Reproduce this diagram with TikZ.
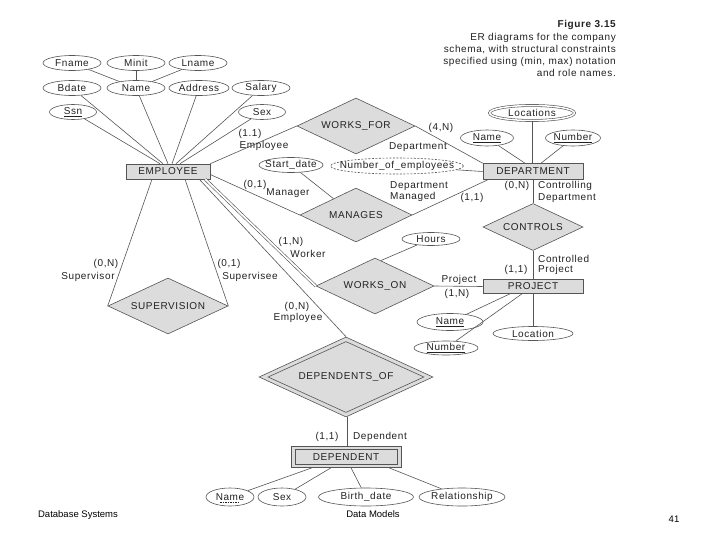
\documentclass[tikz,border=0pt]{standalone}
\usepackage{fontspec}
\setmainfont{Liberation Sans}
\newfontfamily\erf[LetterSpace=6]{Liberation Sans}
\usetikzlibrary{shapes.geometric,calc}
\definecolor{linec}{HTML}{555555}
\definecolor{boxc}{HTML}{DCDCDC}
\definecolor{txt}{HTML}{222222}
\newcommand\erfs{\erf\fontsize{10}{12}\selectfont}
\newcommand\zb[1]{\makebox[0pt]{#1}}
\tikzset{
  attr/.style={ellipse, draw=linec, line width=0.6pt, fill=white, inner sep=0pt, font=\erfs, text=txt},
  entbox/.style={rectangle, draw=linec, line width=0.6pt, fill=boxc, inner sep=0pt, font=\erfs, text=txt},
  relbox/.style={diamond, draw=linec, line width=0.6pt, fill=boxc, inner sep=0pt, aspect=2, font=\erfs, text=txt},
  lab/.style={inner sep=0pt, font=\erfs, text=txt},
  conn/.style={draw=linec, line width=0.6pt},
  dconn/.style={draw=linec, line width=0.6pt, double=white, double distance=1.8pt},
  foot/.style={inner sep=0pt, font=\fontsize{9.5}{11}\selectfont, text=black}
}
\begin{document}
\begin{tikzpicture}[x=1pt,y=-1pt]
\useasboundingbox[fill=white] (0,0) rectangle (717,538);

% caption
\node[lab, anchor=east, font={\erf\bfseries\fontsize{10}{12}\selectfont}] (cap0) at (616,25) {Figure 3.15};
\node[lab, anchor=east] (cap1) at (616,38) {ER diagrams for the company};
\node[lab, anchor=east] (cap2) at (616,50) {schema, with structural constraints};
\node[lab, anchor=east] (cap3) at (616,62) {specified using (min, max) notation};
\node[lab, anchor=east] (cap4) at (616,73) {and role names.};

% EMPLOYEE and attributes
\node[entbox, minimum width=84pt, minimum height=15pt] (emp) at (168,171.5) {EMPLOYEE};
\node[attr, minimum width=58pt, minimum height=15pt] (fname) at (72,63) {\zb{Fname}};
\node[attr, minimum width=58pt, minimum height=15pt] (minit) at (136,63) {\zb{Minit}};
\node[attr, minimum width=58pt, minimum height=15pt] (lname) at (198,63) {\zb{Lname}};
\node[attr, minimum width=58pt, minimum height=15pt] (bdate) at (72,88) {\zb{Bdate}};
\node[attr, minimum width=58pt, minimum height=15pt] (ename) at (136,88) {\zb{Name}};
\node[attr, minimum width=60pt, minimum height=15pt] (addr) at (199,88) {\zb{Address}};
\node[attr, minimum width=58pt, minimum height=15pt] (salary) at (261,88) {\zb{Salary}};
\node[attr, minimum width=47pt, minimum height=15pt] (ssn) at (73,112) {\zb{\underline{Ssn}}};
\node[attr, minimum width=47pt, minimum height=15pt] (esex) at (262,112) {\zb{Sex}};

\draw[conn] (fname) -- (ename);
\draw[conn] (minit) -- (ename);
\draw[conn] (lname) -- (ename);
\draw[conn] (ssn) -- ([xshift=-8pt]emp.north);
\draw[conn] (bdate) -- ([xshift=-5pt]emp.north);
\draw[conn] (ename) -- ([xshift=0pt]emp.north);
\draw[conn] (addr) -- ([xshift=4pt]emp.north);
\draw[conn] (salary) -- ([xshift=8pt]emp.north);
\draw[conn] (esex) -- ([xshift=12pt]emp.north);

% DEPARTMENT
\node[entbox, minimum width=100pt, minimum height=16pt] (dept) at (533,171.5) {DEPARTMENT};
\node[attr, double=white, double distance=1.5pt, minimum width=85pt, minimum height=15pt] (locs) at (532,113) {\zb{Locations}};
\node[attr, minimum width=53pt, minimum height=16pt] (dname) at (487,138) {\zb{\underline{Name}}};
\node[attr, minimum width=55pt, minimum height=16pt] (dnum) at (573,138) {\zb{\underline{Number}}};
\node[attr, minimum width=64pt, minimum height=15pt] (sdate) at (291,165) {\zb{Start\_date}};
\node[attr, dashed, dash pattern=on 2pt off 1.5pt, minimum width=133pt, minimum height=16pt] (nemp) at (397,166) {\zb{Number\_of\_employees}};

\draw[conn] (locs) -- (locs |- dept.north);
\draw[conn] (dname) -- ([xshift=-8pt]dept.north);
\draw[conn] (dnum) -- ([xshift=8pt]dept.north);
\draw[conn] (nemp) -- (dept.west);

% WORKS_FOR
\node[relbox, minimum width=118pt, minimum height=56pt] (wf) at (356,126) {WORKS\_FOR};
\draw[conn] (emp.north east) -- (wf.west);
\draw[conn] (wf.east) -- (dept.north west);
\node[lab] (l11a) at (250,134) {(1.1)};
\node[lab] (lempa) at (264,146) {Employee};
\node[lab] (l4n) at (441,128) {(4,N)};
\node[lab] (ldepa) at (418,147) {Department};

% MANAGES
\node[relbox, minimum width=112pt, minimum height=54pt] (man) at (356,215) {MANAGES};
\draw[conn] ([yshift=-3pt]emp.east) -- (man.west);
\draw[conn] (man.east) -- ([xshift=5pt]dept.south west);
\draw[conn] (sdate) -- ($(man.west)!0.6!(man.north)$);
\node[lab] (l01a) at (255,185) {(0,1)};
\node[lab] (lmgr) at (288,193) {Manager};
\node[lab, anchor=west] (ldepb) at (390,186) {Department};
\node[lab, anchor=west] (lmgd) at (390,197) {Managed};
\node[lab] (l11b) at (472,198) {(1,1)};

% CONTROLS
\node[relbox, minimum width=100pt, minimum height=47pt] (ctrl) at (533,227) {CONTROLS};
\node[entbox, minimum width=100pt, minimum height=14pt] (proj) at (533,286.5) {PROJECT};
\draw[conn] (dept.south) -- (ctrl.north);
\draw[conn] (ctrl.south) -- (proj.north);
\node[lab] (l0na) at (517,186) {(0,N)};
\node[lab, anchor=west] (lctl) at (538,186) {Controlling};
\node[lab, anchor=west] (ldepc) at (538,198) {Department};
\node[lab, anchor=west] (lctd) at (538,259) {Controlled};
\node[lab, anchor=west] (lproa) at (538,270) {Project};
\node[lab] (l11c) at (516,270) {(1,1)};

% WORKS_ON
\node[relbox, minimum width=118pt, minimum height=56pt] (wo) at (375,286) {WORKS\_ON};
\node[attr, minimum width=58pt, minimum height=13pt] (hours) at (431,239) {\zb{Hours}};
\draw[conn] (hours) -- ($(wo.north)!0.1!(wo.east)$);
\draw[conn] (wo.east) -- (proj.west);
\draw[dconn] ([xshift=-5pt]emp.south east) -- (wo.west);
\node[lab] (lproj) at (459,280) {Project};
\node[lab] (l1na) at (457,294) {(1,N)};
\node[lab] (l1nb) at (291,242) {(1,N)};
\node[lab] (lwork) at (308,254) {Worker};

% PROJECT attributes
\node[attr, minimum width=66pt, minimum height=17pt] (pname) at (450,322) {\zb{\underline{Name}}};
\node[attr, minimum width=80pt, minimum height=14pt] (ploc) at (533,333.5) {\zb{Location}};
\node[attr, minimum width=64pt, minimum height=14pt] (pnum) at (446,348) {\zb{\underline{Number}}};
\draw[conn] ([xshift=-23pt]proj.south) -- (pname);
\draw[conn] ([xshift=-11pt]proj.south) -- (pnum);
\draw[conn] (proj.south) -- (ploc.north);

% SUPERVISION
\node[relbox, minimum width=120pt, minimum height=56pt] (sup) at (168,306) {SUPERVISION};
\draw[conn] ([xshift=-16pt]emp.south) -- (sup.west);
\draw[conn] ([xshift=17pt]emp.south) -- (sup.east);
\node[lab] (l0nb) at (106,264) {(0,N)};
\node[lab] (lsupr) at (88,277) {Supervisor};
\node[lab] (l01b) at (229,264) {(0,1)};
\node[lab] (lsupe) at (250,277) {Supervisee};

% DEPENDENTS_OF
\node[relbox, minimum width=174pt, minimum height=80pt] (dof) at (346,377) {};
\node[relbox, minimum width=156pt, minimum height=71pt] (dofi) at (346,377) {DEPENDENTS\_OF};
\draw[conn] ([xshift=-11pt]emp.south east) -- (dof.north);
\node[lab] (l0nc) at (297,307) {(0,N)};
\node[lab] (lempb) at (298,318) {Employee};

% DEPENDENT
\node[entbox, minimum width=110pt, minimum height=21pt] (dep) at (346,457) {};
\node[entbox, minimum width=102pt, minimum height=15pt] (depi) at (346,457) {DEPENDENT};
\draw[dconn] (dof.south) -- (dep.north);
\node[lab] (l11d) at (327,437) {(1,1)};
\node[lab] (ldept) at (380,437) {Dependent};

\node[attr, minimum width=48pt, minimum height=18pt] (qname) at (230,497) {\zb{Name}};
\node[attr, minimum width=48pt, minimum height=18pt] (qsex) at (282,497) {\zb{Sex}};
\node[attr, minimum width=95pt, minimum height=18pt] (qbd) at (366,497) {\zb{Birth\_date}};
\node[attr, minimum width=86pt, minimum height=18pt] (qrel) at (462,497) {\zb{Relationship}};
\draw[draw=txt, line width=0.5pt, dash pattern=on 1.5pt off 1pt] ([xshift=-10pt,yshift=-5pt]qname.center) -- ([xshift=10pt,yshift=-5pt]qname.center);
\draw[conn] ([xshift=-34pt]dep.south) -- (qname);
\draw[conn] ([xshift=-15pt]dep.south) -- (qsex);
\draw[conn] ([xshift=5pt]dep.south) -- (qbd);
\draw[conn] ([xshift=43pt]dep.south) -- (qrel);

% footer
\node[foot] (f1) at (78,515) {Database Systems};
\node[foot] (f2) at (373,514) {Data Models};
\node[foot] (f3) at (674,519) {41};
\end{tikzpicture}
\end{document}
